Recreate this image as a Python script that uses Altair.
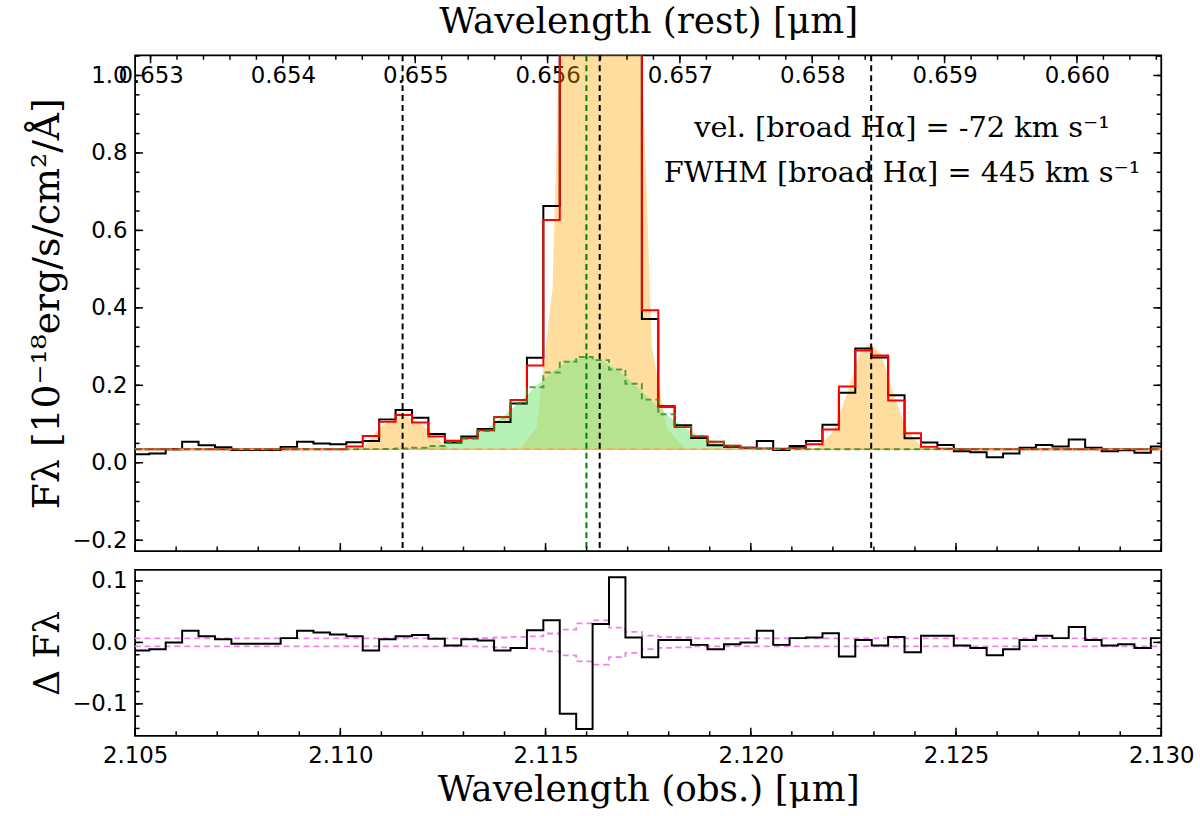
import altair as alt
import numpy as np
import pandas as pd

# ------------------------------------------------------------------ data
BIN_CENTER0 = 2.105146      # centre of first (partial) pixel, micron
BIN_WIDTH = 0.0004
CONT = 0.035
ONE_PLUS_Z = 3.22416

flux = [0.022, 0.024, 0.035, 0.054, 0.045, 0.040, 0.033, 0.033, 0.033, 0.041,
        0.054, 0.050, 0.048, 0.053, 0.056, 0.112, 0.136, 0.116, 0.074, 0.052,
        0.068, 0.087, 0.105, 0.153, 0.271, 0.663, 1.88, 3.76, 4.63, 3.41,
        1.41, 0.371, 0.146, 0.097, 0.064, 0.045, 0.041, 0.039, 0.056, 0.033,
        0.043, 0.056, 0.098, 0.181, 0.295, 0.272, 0.174, 0.063, 0.052, 0.046,
        0.030, 0.027, 0.014, 0.024, 0.039, 0.046, 0.042, 0.060, 0.039, 0.030,
        0.032, 0.026, 0.042]

model = [0.035, 0.035, 0.035, 0.035, 0.035, 0.035, 0.035, 0.035, 0.035, 0.035,
         0.035, 0.035, 0.035, 0.042, 0.069, 0.106, 0.123, 0.104, 0.068, 0.057,
         0.064, 0.084, 0.118, 0.162, 0.251, 0.627, 2.0, 3.9, 4.6, 3.3,
         1.4, 0.394, 0.144, 0.092, 0.068, 0.054, 0.044, 0.039, 0.037, 0.036,
         0.038, 0.048, 0.086, 0.197, 0.290, 0.277, 0.161, 0.076, 0.041, 0.036,
         0.035, 0.035, 0.035, 0.035, 0.035, 0.035, 0.035, 0.035, 0.035, 0.035,
         0.035, 0.035, 0.035]

broad_binned = [0.035, 0.035, 0.035, 0.035, 0.035, 0.035, 0.035, 0.035, 0.035, 0.035,
                0.035, 0.035, 0.035, 0.035, 0.0352, 0.0356, 0.0365, 0.0387, 0.043, 0.051,
                0.062, 0.082, 0.117, 0.154, 0.195, 0.233, 0.261, 0.273, 0.265, 0.241,
                0.204, 0.163, 0.125, 0.093, 0.069, 0.054, 0.044, 0.039, 0.037, 0.036,
                0.035, 0.035, 0.035, 0.035, 0.035, 0.035, 0.035, 0.035, 0.035, 0.035,
                0.035, 0.035, 0.035, 0.035, 0.035, 0.035, 0.035, 0.035, 0.035, 0.035,
                0.035, 0.035, 0.035]

resid = [-0.013, -0.011, 0.000, 0.019, 0.010, 0.005, -0.002, -0.002, -0.002, 0.007,
         0.019, 0.016, 0.013, 0.010, -0.013, 0.005, 0.010, 0.012, 0.006, -0.005,
         0.005, 0.003, -0.013, -0.009, 0.020, 0.036, -0.116, -0.141, 0.030, 0.106,
         0.008, -0.024, 0.004, 0.004, -0.004, -0.011, -0.003, 0.000, 0.019, -0.004,
         0.007, 0.008, 0.015, -0.023, 0.004, -0.005, 0.009, -0.016, 0.011, 0.011,
         -0.005, -0.009, -0.021, -0.011, 0.004, 0.011, 0.007, 0.025, 0.004, -0.005,
         -0.003, -0.009, 0.007]

err = [0.0065] * 21 + [0.007, 0.008, 0.009, 0.010, 0.0145, 0.021, 0.031, 0.036,
                       0.024, 0.017, 0.011, 0.009, 0.008] + [0.0065] * 29

# smooth narrow-line model ([NII]6548, Halpha, [NII]6583) + continuum
narrow_wave = [2.1050, 2.11030, 2.11057, 2.11098, 2.11150, 2.11195, 2.11250, 2.11265,
               2.11437, 2.11478, 2.11517, 2.11558, 2.11596, 2.11638, 2.11679,
               2.11717, 2.11759, 2.11795, 2.11841,
               2.12158, 2.12201, 2.12235, 2.12264, 2.12291, 2.12318, 2.12347,
               2.12381, 2.12424, 2.1300]
narrow_flux = [0.035, 0.035, 0.040, 0.093, 0.123, 0.102, 0.050, 0.035,
               0.035, 0.090, 0.450, 2.000, 4.000, 4.600, 3.300,
               1.600, 0.300, 0.090, 0.035,
               0.035, 0.080, 0.180, 0.280, 0.310, 0.280, 0.180,
               0.080, 0.035, 0.035]

# smooth broad Halpha component + continuum
broad_wave = [2.1050, 2.1104, 2.1108, 2.1112, 2.1116, 2.1120, 2.1124, 2.1128, 2.1132,
              2.1136, 2.1140, 2.1144, 2.1148, 2.1152, 2.1156, 2.1160, 2.1164,
              2.1168, 2.1172, 2.1176, 2.1180, 2.1184, 2.1188, 2.1192, 2.1196,
              2.1200, 2.1204, 2.1208, 2.1212, 2.1216, 2.1300]
broad_flux = [0.035, 0.035, 0.0352, 0.0357, 0.0367, 0.0391, 0.0439, 0.0527, 0.0677,
              0.0905, 0.1217, 0.160, 0.201, 0.238, 0.264, 0.273, 0.263,
              0.236, 0.199, 0.158, 0.120, 0.089, 0.0668, 0.052, 0.0436,
              0.039, 0.0367, 0.0356, 0.0352, 0.035, 0.035]

vlines_black = [2.111517, 2.116319, 2.122933]
vline_green = [2.115995]

obs_major = [2.105, 2.110, 2.115, 2.120, 2.125, 2.130]
obs_minor = [round(2.105 + 0.001 * k, 3) for k in range(26)]
rest_major = [0.653, 0.654, 0.655, 0.656, 0.657, 0.658, 0.659, 0.660]
rest_minor = [round(0.653 + 0.0002 * k, 4) for k in range(39)]
ytop_major = [-0.2, 0.0, 0.2, 0.4, 0.6, 0.8, 1.0]
ytop_minor = [round(-0.2 + 0.05 * k, 2) for k in range(26)]
ybot_major = [-0.1, 0.0, 0.1]
ybot_minor = [round(-0.14 + 0.02 * k, 2) for k in range(13)]

# ------------------------------------------------------------------ frames
nb = len(flux)
idx = np.arange(-1, nb + 1)
centers = BIN_CENTER0 + BIN_WIDTH * idx


def pad(a):
    return [a[0]] + list(a) + [a[-1]]


steps = pd.DataFrame({
    "wave": centers,
    "flux": pad(flux),
    "model": pad(model),
    "broad": pad(broad_binned),
    "resid": pad(resid),
    "err_hi": pad(err),
    "err_lo": [-e for e in pad(err)],
})
narrow_df = pd.DataFrame({"wave": narrow_wave, "flux": narrow_flux, "base": CONT})
broad_df = pd.DataFrame({"wave": broad_wave, "flux": broad_flux, "base": CONT})
cont_df = pd.DataFrame({"c": [CONT]})
vb_df = pd.DataFrame({"wave": vlines_black})
vg_df = pd.DataFrame({"wave": vline_green})

W, H1, H2 = 1033, 499, 167
MAJ, MIN = 8, 4.5

xs = alt.Scale(domain=[2.105, 2.130], nice=False, zero=False)
rest_scale = alt.Scale(domain=[2.105 / ONE_PLUS_Z, 2.130 / ONE_PLUS_Z], nice=False, zero=False)
ys_top = alt.Scale(domain=[-0.228, 1.052], nice=False, zero=False)
ys_bot = alt.Scale(domain=[-0.152, 0.118], nice=False, zero=False)

top_y_axis = alt.Axis(values=ytop_major, format=".1f", labelPadding=8,
                      title="Fλ [10⁻¹⁸erg/s/cm²/Å]", titleX=-88, titleY=H1 / 2,
                      titleBaseline="middle", titleFontSize=38)
bot_y_axis = alt.Axis(values=ybot_major, format=".1f", labelPadding=8,
                      title="Δ Fλ", titleX=-88, titleY=H2 / 2,
                      titleBaseline="middle", titleFontSize=36)
bot_x_axis = alt.Axis(values=obs_major, format=".3f", labelPadding=9, labelFlush=False,
                      labelOverlap=False, title="Wavelength (obs.) [μm]",
                      titleY=54, titleBaseline="middle")
rest_axis = alt.Axis(orient="top", values=rest_major, format=".3f", labelPadding=-20,
                     labelBaseline="middle", labelFlush=False, labelOverlap=False,
                     title="Wavelength (rest) [μm]", titleY=-34, titleBaseline="middle")


def XT(f):
    return alt.X(f, type="quantitative", scale=xs, axis=None)


def YT(f):
    return alt.Y(f, type="quantitative", scale=ys_top, axis=top_y_axis)


def XB(f):
    return alt.X(f, type="quantitative", scale=xs, axis=bot_x_axis)


def YB(f):
    return alt.Y(f, type="quantitative", scale=ys_bot, axis=bot_y_axis)


def tick_df(vals):
    return pd.DataFrame({"v": vals})


# ------------------------------------------------------------------ top panel
orange_fill = alt.Chart(narrow_df).mark_area(color="#FFA500", opacity=0.38, clip=True).encode(
    x=XT("wave"), y=YT("flux"), y2="base")
green_fill = alt.Chart(broad_df).mark_area(color="#86E886", opacity=0.6, clip=True).encode(
    x=XT("wave"), y=YT("flux"), y2="base")
cont_line = alt.Chart(cont_df).mark_rule(color="#EAC35A", strokeWidth=1.5).encode(y=YT("c"))
data_line = alt.Chart(steps).mark_line(interpolate="step", color="black", strokeWidth=2,
                                       clip=True).encode(x=XT("wave"), y=YT("flux"))
model_line = alt.Chart(steps).mark_line(interpolate="step", color="red", strokeWidth=2,
                                        clip=True).encode(x=XT("wave"), y=YT("model"))
cont_dash = alt.Chart(cont_df).mark_rule(color="#FF9A50", strokeWidth=1.5,
                                         strokeDash=[6, 6]).encode(y=YT("c"))
broad_line = alt.Chart(steps).mark_line(interpolate="step", color="#2E8B22", strokeWidth=2,
                                        strokeDash=[6, 4], opacity=0.8, clip=True).encode(
    x=XT("wave"), y=YT("broad"))
vb = alt.Chart(vb_df).mark_rule(color="black", strokeWidth=2, strokeDash=[6, 4]).encode(x=XT("wave"))
vg = alt.Chart(vg_df).mark_rule(color="#008000", strokeWidth=2, strokeDash=[6, 4]).encode(x=XT("wave"))

ann1 = alt.Chart(cont_df).mark_text(font="DejaVu Serif", fontSize=29, align="center",
                                    baseline="middle", color="black",
                                    text="vel. [broad Hα] = -72 km s⁻¹").encode(
    x=alt.value(772), y=alt.value(73))
ann2 = alt.Chart(cont_df).mark_text(font="DejaVu Serif", fontSize=29, align="center",
                                    baseline="middle", color="black",
                                    text="FWHM [broad Hα] = 445 km s⁻¹").encode(
    x=alt.value(772), y=alt.value(118))

tk = dict(color="black", strokeWidth=1.5)
t_bot_maj = alt.Chart(tick_df(obs_major)).mark_rule(**tk).encode(
    x=XT("v"), y=alt.value(H1), y2=alt.value(H1 - MAJ))
t_bot_min = alt.Chart(tick_df(obs_minor)).mark_rule(**tk).encode(
    x=XT("v"), y=alt.value(H1), y2=alt.value(H1 - MIN))
t_l_maj = alt.Chart(tick_df(ytop_major)).mark_rule(**tk).encode(
    y=YT("v"), x=alt.value(0), x2=alt.value(MAJ))
t_l_min = alt.Chart(tick_df(ytop_minor)).mark_rule(**tk).encode(
    y=YT("v"), x=alt.value(0), x2=alt.value(MIN))
t_r_maj = alt.Chart(tick_df(ytop_major)).mark_rule(**tk).encode(
    y=YT("v"), x=alt.value(W - MAJ), x2=alt.value(W))
t_r_min = alt.Chart(tick_df(ytop_minor)).mark_rule(**tk).encode(
    y=YT("v"), x=alt.value(W - MIN), x2=alt.value(W))

obs_layer = alt.layer(orange_fill, green_fill, cont_line, data_line, model_line, cont_dash,
                      broad_line, vb, vg, ann1, ann2,
                      t_bot_maj, t_bot_min, t_l_maj, t_l_min, t_r_maj, t_r_min)

t_top_maj = alt.Chart(tick_df(rest_major)).mark_rule(**tk).encode(
    x=alt.X("v", type="quantitative", scale=rest_scale, axis=rest_axis),
    y=alt.value(0), y2=alt.value(MAJ))
t_top_min = alt.Chart(tick_df(rest_minor)).mark_rule(**tk).encode(
    x=alt.X("v", type="quantitative", scale=rest_scale, axis=rest_axis),
    y=alt.value(0), y2=alt.value(MIN))
rest_layer = alt.layer(t_top_maj, t_top_min)

top = alt.layer(obs_layer, rest_layer).resolve_scale(x="independent").properties(
    width=W, height=H1)

# ------------------------------------------------------------------ bottom panel
res_line = alt.Chart(steps).mark_line(interpolate="step", color="black", strokeWidth=2,
                                      clip=True).encode(x=XB("wave"), y=YB("resid"))
err_hi = alt.Chart(steps).mark_line(interpolate="step", color="#EE82EE", strokeWidth=1.8,
                                    strokeDash=[6, 4], clip=True).encode(x=XB("wave"), y=YB("err_hi"))
err_lo = alt.Chart(steps).mark_line(interpolate="step", color="#EE82EE", strokeWidth=1.8,
                                    strokeDash=[6, 4], clip=True).encode(x=XB("wave"), y=YB("err_lo"))
b_bot_maj = alt.Chart(tick_df(obs_major)).mark_rule(**tk).encode(
    x=XB("v"), y=alt.value(H2), y2=alt.value(H2 - MAJ))
b_bot_min = alt.Chart(tick_df(obs_minor)).mark_rule(**tk).encode(
    x=XB("v"), y=alt.value(H2), y2=alt.value(H2 - MIN))
b_l_maj = alt.Chart(tick_df(ybot_major)).mark_rule(**tk).encode(
    y=YB("v"), x=alt.value(0), x2=alt.value(MAJ))
b_l_min = alt.Chart(tick_df(ybot_minor)).mark_rule(**tk).encode(
    y=YB("v"), x=alt.value(0), x2=alt.value(MIN))
b_r_maj = alt.Chart(tick_df(ybot_major)).mark_rule(**tk).encode(
    y=YB("v"), x=alt.value(W - MAJ), x2=alt.value(W))
b_r_min = alt.Chart(tick_df(ybot_minor)).mark_rule(**tk).encode(
    y=YB("v"), x=alt.value(W - MIN), x2=alt.value(W))

bottom = alt.layer(err_hi, err_lo, res_line, b_bot_maj, b_bot_min, b_l_maj, b_l_min,
                   b_r_maj, b_r_min).properties(width=W, height=H2)

chart = alt.vconcat(top, bottom, spacing=16).properties(
    padding={"left": 28, "top": 0, "right": 5, "bottom": 5},
    background="white",
).configure_view(stroke="black", strokeWidth=1.8).configure_axis(
    domain=False, ticks=False, grid=False,
    labelFont="DejaVu Sans", labelFontSize=23, labelColor="black",
    titleFont="DejaVu Serif", titleFontSize=36, titleFontWeight="normal", titleColor="black",
)

chart.save("out.html", embed_options={"renderer": "svg", "actions": False})
